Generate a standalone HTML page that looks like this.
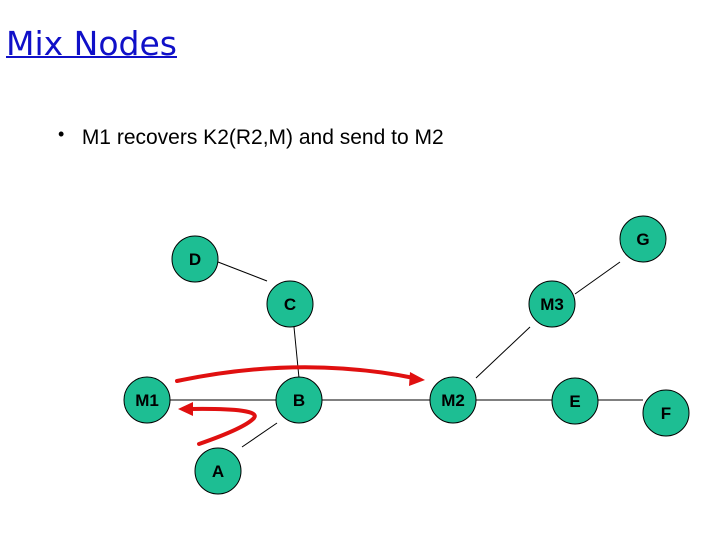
<!DOCTYPE html>
<html><head><style>
body{margin:0;width:720px;height:540px;background:#fff;overflow:hidden;position:relative;font-family:"Liberation Sans",sans-serif}
.t{position:absolute;left:6px;top:24px;font-family:"Comic Sans MS","DejaVu Sans",sans-serif;font-size:33px;color:#1010c8;text-decoration:underline;text-decoration-thickness:2px}
.b{position:absolute;left:58px;top:126px;font-size:21px;color:#000}
</style></head><body>
<div class="t">Mix Nodes</div>
<div class="b"><span style="font-size:18px;position:relative;top:-4px">•</span>&nbsp;&nbsp; M1 recovers K2(R2,M) and send to M2</div>
<svg width="720" height="540" style="position:absolute;left:0;top:0">
<g stroke="#000" stroke-width="1">
<line x1="218" y1="262" x2="267" y2="281"/>
<line x1="294" y1="327" x2="299" y2="378"/>
<line x1="170" y1="400" x2="276" y2="400"/>
<line x1="322" y1="400" x2="430" y2="400"/>
<line x1="476" y1="378" x2="530" y2="327"/>
<line x1="575" y1="294" x2="620" y2="262"/>
<line x1="476" y1="400" x2="552" y2="400"/>
<line x1="598" y1="400" x2="643" y2="400"/>
<line x1="242" y1="447" x2="277" y2="423"/>
</g>
<g fill="#1dbe93" stroke="#000" stroke-width="1">
<circle cx="195" cy="259" r="23"/><circle cx="290" cy="304" r="23"/>
<circle cx="147" cy="400" r="23"/><circle cx="299" cy="400" r="23"/>
<circle cx="453" cy="400" r="23"/><circle cx="218" cy="471" r="23"/>
<circle cx="552" cy="304" r="23"/><circle cx="643" cy="239" r="23"/>
<circle cx="575" cy="401" r="23"/><circle cx="666" cy="413" r="23"/>
</g>
<g font-family="Liberation Sans,sans-serif" font-weight="bold" font-size="17" text-anchor="middle">
<text x="195" y="265">D</text><text x="290" y="310">C</text>
<text x="147" y="406">M1</text><text x="299" y="406">B</text>
<text x="453" y="406">M2</text><text x="218" y="477">A</text>
<text x="552" y="310">M3</text><text x="643" y="245">G</text>
<text x="575" y="407">E</text><text x="666" y="419">F</text>
</g>
<g stroke="#e01010" stroke-width="4" fill="none" stroke-linecap="round">
<path d="M177 381 Q300 355 414 378"/>
<path d="M199 444 Q245 428 254 418 Q262 408 190 409"/>
</g>
<g fill="#e01010">
<polygon points="425,380 410,372 409,386"/>
<polygon points="178,409 193,402 193,416"/>
</g>
</svg>
</body></html>
